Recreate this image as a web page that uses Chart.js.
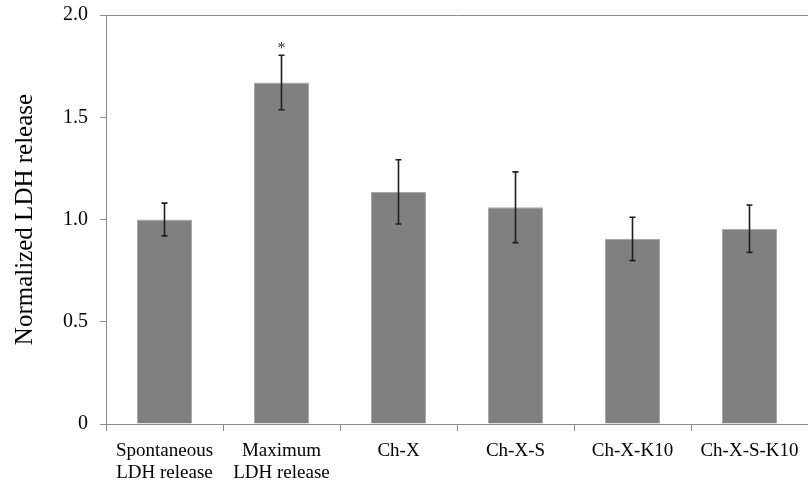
<!DOCTYPE html>
<html>
<head>
<meta charset="utf-8">
<script src="https://cdn.jsdelivr.net/npm/chart.js@4/dist/chart.umd.min.js"></script>
<style>
  html, body { margin: 0; padding: 0; background: #fff; }
  canvas { display: block; }
</style>
</head>
<body>
<canvas id="c" width="808" height="484"></canvas>
<script>
const categories = [
  ['Spontaneous', 'LDH release'],
  ['Maximum', 'LDH release'],
  'Ch-X',
  'Ch-X-S',
  'Ch-X-K10',
  'Ch-X-S-K10'
];
const values = [1.00, 1.67, 1.135, 1.06, 0.905, 0.955];
const errors = [0.08, 0.133, 0.157, 0.173, 0.106, 0.116];
const marks = ['', '*', '', '', '', ''];
const yTickLabels = ['0', '0.5', '1.0', '1.5', '2.0'];
const yTitle = 'Normalized LDH release';

const FONT = '"Liberation Serif", "Times New Roman", serif';
const AXIS = '#8c8c8c';

const errorBarPlugin = {
  id: 'errorBars',
  afterDatasetsDraw(chart) {
    const ctx = chart.ctx;
    const xs = chart.scales.x, ys = chart.scales.y;
    ctx.save();
    ctx.strokeStyle = '#1e1e1e';
    ctx.lineWidth = 1.6;
    values.forEach((v, i) => {
      const x = xs.getPixelForValue(i);
      const yTop = ys.getPixelForValue(v + errors[i]);
      const yBot = ys.getPixelForValue(v - errors[i]);
      ctx.beginPath();
      ctx.moveTo(x, yTop); ctx.lineTo(x, yBot);
      ctx.moveTo(x - 3, yTop); ctx.lineTo(x + 3, yTop);
      ctx.moveTo(x - 3, yBot); ctx.lineTo(x + 3, yBot);
      ctx.stroke();
      if (marks[i]) {
        ctx.fillStyle = '#333';
        ctx.font = '16px ' + FONT;
        ctx.textAlign = 'center';
        ctx.textBaseline = 'alphabetic';
        ctx.fillText(marks[i], x, yTop - 2);
      }
    });
    ctx.restore();
  }
};

new Chart(document.getElementById('c'), {
  type: 'bar',
  data: {
    labels: categories,
    datasets: [{
      data: values,
      backgroundColor: '#808080',
      borderColor: '#a8a8a8',
      borderWidth: 1,
      barPercentage: 0.47,
      categoryPercentage: 1.0
    }]
  },
  options: {
    responsive: false,
    animation: false,
    layout: { padding: { top: 15, right: 0, bottom: 0, left: 0 } },
    plugins: { legend: { display: false }, tooltip: { enabled: false } },
    scales: {
      x: {
        offset: true,
        grid: {
          offset: true,
          drawOnChartArea: false,
          tickLength: 7,
          tickColor: AXIS,
          tickWidth: 1
        },
        border: { color: AXIS, width: 1 },
        ticks: {
          color: '#000',
          font: { family: FONT, size: 19, lineHeight: 1.16 },
          padding: 9,
          maxRotation: 0,
          autoSkip: false
        },
        afterFit(s) { s.height = 60; s.paddingLeft = 0; s.paddingRight = 0; }
      },
      y: {
        min: 0,
        max: 2,
        grid: {
          color: (c) => (c.tick && c.tick.value === 2 ? AXIS : 'rgba(0,0,0,0)'),
          tickColor: AXIS,
          tickLength: 6,
          lineWidth: 1
        },
        border: { color: AXIS, width: 1 },
        ticks: {
          stepSize: 0.5,
          color: '#000',
          font: { family: FONT, size: 20 },
          padding: 12,
          callback: (v, i) => yTickLabels[i]
        },
        title: {
          display: true,
          text: yTitle,
          color: '#000',
          font: { family: FONT, size: 25 },
          padding: { top: 10, bottom: 0 }
        },
        afterFit(s) { s.width = 106; s.paddingTop = 0; s.paddingBottom = 0; }
      }
    }
  },
  plugins: [errorBarPlugin]
});
</script>
</body>
</html>
